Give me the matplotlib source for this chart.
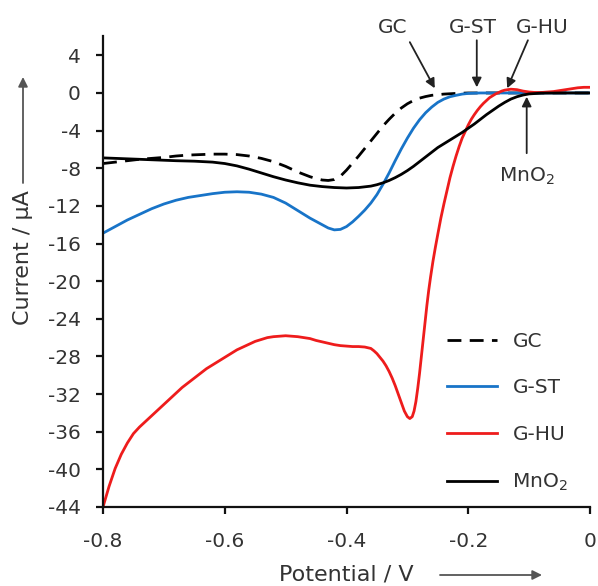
import matplotlib
matplotlib.use("Agg")
import matplotlib.pyplot as plt
from matplotlib.patches import FancyArrowPatch

plt.rcParams["font.family"] = ["DejaVu Sans"]
plt.rcParams["mathtext.default"] = "regular"

# Linear sweep voltammograms (potential in V, current in µA)
gc_v = [-0.80, -0.78, -0.76, -0.74, -0.72, -0.70, -0.68, -0.66, -0.64, -0.62,
        -0.60, -0.58, -0.56, -0.54, -0.52, -0.50, -0.48, -0.46, -0.45, -0.44,
        -0.43, -0.42, -0.41, -0.40, -0.39, -0.38, -0.37, -0.36, -0.35, -0.34,
        -0.33, -0.32, -0.31, -0.30, -0.29, -0.28, -0.27, -0.26, -0.24, -0.22,
        -0.20, -0.10, 0.00]
gc_i = [-7.5, -7.35, -7.2, -7.05, -6.95, -6.85, -6.7, -6.6, -6.55, -6.5,
        -6.5, -6.55, -6.7, -6.95, -7.3, -7.8, -8.4, -8.9, -9.1, -9.25,
        -9.3, -9.2, -8.85, -8.2, -7.45, -6.7, -5.9, -5.1, -4.3, -3.5,
        -2.8, -2.15, -1.6, -1.15, -0.8, -0.55, -0.38, -0.25, -0.12, -0.05,
        0.0, 0.0, 0.0]

gst_v = [-0.80, -0.78, -0.76, -0.74, -0.72, -0.70, -0.68, -0.66, -0.64, -0.62,
         -0.60, -0.58, -0.56, -0.54, -0.52, -0.50, -0.48, -0.46, -0.44, -0.43,
         -0.42, -0.41, -0.40, -0.39, -0.38, -0.37, -0.36, -0.35, -0.34, -0.33,
         -0.32, -0.31, -0.30, -0.29, -0.28, -0.27, -0.26, -0.25, -0.24, -0.23,
         -0.22, -0.21, -0.20, -0.18, 0.00]
gst_i = [-14.9, -14.2, -13.5, -12.9, -12.3, -11.8, -11.4, -11.1, -10.9, -10.7,
         -10.55, -10.5, -10.55, -10.75, -11.1, -11.7, -12.5, -13.3, -14.0, -14.35,
         -14.55, -14.5, -14.2, -13.7, -13.1, -12.45, -11.7, -10.8, -9.7, -8.5,
         -7.2, -5.95, -4.8, -3.75, -2.85, -2.1, -1.5, -1.0, -0.65, -0.4,
         -0.25, -0.12, -0.05, 0.0, 0.0]

ghu_v = [-0.800, -0.790, -0.780, -0.770, -0.760, -0.750, -0.740, -0.730, -0.720, -0.710,
         -0.700, -0.690, -0.680, -0.670, -0.660, -0.650, -0.640, -0.630, -0.620, -0.610,
         -0.600, -0.590, -0.580, -0.570, -0.560, -0.550, -0.540, -0.530, -0.520, -0.510,
         -0.500, -0.490, -0.480, -0.470, -0.460, -0.450, -0.440, -0.430, -0.420, -0.410,
         -0.400, -0.390, -0.380, -0.370, -0.360, -0.355, -0.350, -0.345, -0.340, -0.335,
         -0.330, -0.325, -0.320, -0.315, -0.310, -0.305, -0.300, -0.296, -0.292, -0.289,
         -0.286, -0.283, -0.280, -0.277, -0.274, -0.271, -0.268, -0.265, -0.262, -0.258,
         -0.254, -0.250, -0.245, -0.240, -0.235, -0.230, -0.225, -0.220, -0.215, -0.210,
         -0.205, -0.200, -0.195, -0.190, -0.185, -0.180, -0.175, -0.170, -0.165, -0.160,
         -0.155, -0.150, -0.145, -0.140, -0.130, -0.120, -0.110, -0.100, -0.090, -0.080,
         -0.070, -0.060, -0.050, -0.040, -0.030, -0.020, -0.010, 0.000]
ghu_i = [-44.0, -41.8, -39.9, -38.4, -37.2, -36.2, -35.5, -34.9, -34.3, -33.7,
         -33.1, -32.5, -31.9, -31.3, -30.8, -30.3, -29.8, -29.3, -28.9, -28.5,
         -28.1, -27.7, -27.3, -27.0, -26.7, -26.4, -26.2, -26.0, -25.9, -25.85,
         -25.8, -25.85, -25.9, -26.0, -26.1, -26.3, -26.45, -26.6, -26.75, -26.85,
         -26.9, -26.95, -26.95, -27.0, -27.15, -27.4, -27.7, -28.1, -28.5, -29.0,
         -29.6, -30.3, -31.1, -32.0, -32.9, -33.8, -34.4, -34.6, -34.4, -33.8,
         -32.8, -31.4, -29.8, -28.0, -26.2, -24.4, -22.6, -21.0, -19.6, -17.9,
         -16.4, -15.0, -13.3, -11.8, -10.4, -9.0, -7.8, -6.7, -5.7, -4.8,
         -4.1, -3.4, -2.8, -2.3, -1.85, -1.45, -1.1, -0.8, -0.5, -0.3,
         -0.1, 0.05, 0.2, 0.3, 0.4, 0.35, 0.2, 0.1, 0.05, 0.05,
         0.1, 0.15, 0.25, 0.35, 0.45, 0.55, 0.6, 0.6]

mno2_v = [-0.80, -0.76, -0.72, -0.68, -0.65, -0.62, -0.60, -0.58, -0.56, -0.54,
          -0.52, -0.50, -0.48, -0.46, -0.44, -0.42, -0.40, -0.38, -0.36, -0.35,
          -0.34, -0.33, -0.32, -0.31, -0.30, -0.29, -0.28, -0.27, -0.26, -0.25,
          -0.24, -0.23, -0.22, -0.21, -0.20, -0.19, -0.18, -0.17, -0.16, -0.15,
          -0.14, -0.13, -0.12, -0.11, -0.10, -0.08, -0.05, 0.00]
mno2_i = [-6.9, -7.0, -7.1, -7.2, -7.25, -7.35, -7.5, -7.75, -8.1, -8.5,
          -8.9, -9.25, -9.55, -9.8, -9.95, -10.05, -10.1, -10.05, -9.9, -9.75,
          -9.55, -9.3, -9.0, -8.65, -8.25, -7.8, -7.3, -6.8, -6.3, -5.8,
          -5.4, -5.0, -4.6, -4.2, -3.75, -3.3, -2.8, -2.3, -1.85, -1.4,
          -1.0, -0.65, -0.4, -0.22, -0.1, -0.02, 0.0, 0.0]

x_ticks = [-0.8, -0.6, -0.4, -0.2, 0.0]
x_ticklabels = ["-0.8", "-0.6", "-0.4", "-0.2", "0"]
y_ticks = [4, 0, -4, -8, -12, -16, -20, -24, -28, -32, -36, -40, -44]

text_color = "#333333"
fs = 14.5
title_fs = 16

fig = plt.figure(figsize=(5.98, 5.86), dpi=100)
ax = fig.add_axes([103 / 598, 79 / 586, 487 / 598, 470.5 / 586])

lw = 2.0
ax.plot(gc_v, gc_i, color="black", lw=lw, ls=(0, (5, 3)), label="GC")
ax.plot(gst_v, gst_i, color="#1874c8", lw=lw, label="G-ST")
ax.plot(ghu_v, ghu_i, color="#ee1c1c", lw=lw, label="G-HU")
ax.plot(mno2_v, mno2_i, color="black", lw=lw, label="MnO$_2$")

ax.set_xlim(-0.8, 0.0)
ax.set_ylim(-44, 6)
ax.set_xticks(x_ticks)
ax.set_xticklabels(x_ticklabels)
ax.set_yticks(y_ticks)
ax.set_yticklabels([str(t) for t in y_ticks])

for side in ("top", "right"):
    ax.spines[side].set_visible(False)
for side in ("left", "bottom"):
    ax.spines[side].set_linewidth(1.6)
    ax.spines[side].set_color("#111111")

ax.tick_params(axis="both", direction="out", length=5, width=1.6,
               labelsize=fs, colors="#111111", labelcolor=text_color)
ax.tick_params(axis="x", pad=13)
ax.tick_params(axis="y", pad=11)

leg = ax.legend(loc="center left", bbox_to_anchor=(447 / 598, 173.5 / 586),
                bbox_transform=fig.transFigure, frameon=False, fontsize=fs,
                handlelength=2.5, handletextpad=0.75, labelspacing=1.38,
                borderpad=0, borderaxespad=0)
for t in leg.get_texts():
    t.set_color(text_color)

# Curve labels with pointer arrows
arrow_kw = dict(arrowstyle="-|>", color="#222222", lw=1.3, mutation_scale=14,
                shrinkA=0, shrinkB=0)
labels = [("GC", (-0.324, 7.0), (-0.296, 5.4), (-0.255, 0.5)),
          ("G-ST", (-0.192, 7.0), (-0.186, 5.6), (-0.186, 0.6)),
          ("G-HU", (-0.079, 7.0), (-0.102, 5.6), (-0.136, 0.5)),
          ("MnO$_2$", (-0.104, -8.9), (-0.104, -6.4), (-0.104, -0.4))]
for name, text_xy, tail, head in labels:
    ax.text(*text_xy, name, ha="center", va="center", fontsize=fs, color=text_color)
    ax.annotate("", xy=head, xytext=tail, annotation_clip=False, arrowprops=arrow_kw)

# Axis titles with direction arrows
fig.text(23 / 598, (586 - 258) / 586, "Current / µA", rotation=90, ha="center",
         va="center", fontsize=title_fs, color=text_color)
fig.text(346 / 598, (586 - 574) / 586, "Potential / V", ha="center", va="center",
         fontsize=title_fs, color=text_color)
ax_arrow = dict(arrowstyle="-|>", color="#555555", lw=1.3, mutation_scale=14,
                shrinkA=0, shrinkB=0)
fig.add_artist(FancyArrowPatch((23, 586 - 183), (23, 586 - 77), transform=None, **ax_arrow))
fig.add_artist(FancyArrowPatch((440, 586 - 575), (542, 586 - 575), transform=None, **ax_arrow))

fig.savefig("out.png", dpi=100)
